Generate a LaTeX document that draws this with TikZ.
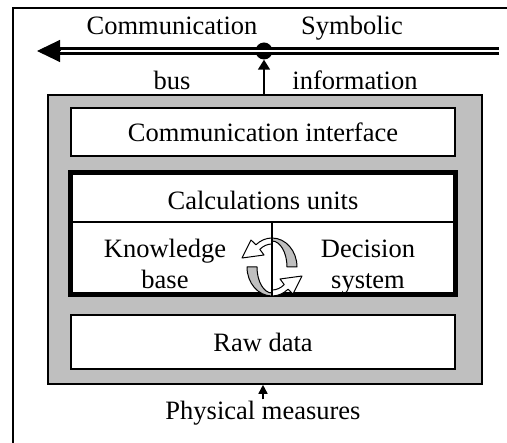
\documentclass[tikz,border=0pt]{standalone}
\usepackage{fontspec}
\setmainfont{Liberation Serif}
\usetikzlibrary{arrows.meta, positioning, calc}

\begin{document}
\begin{tikzpicture}[
    x=1pt, y=-1pt,
    lbl/.style={font=\fontsize{26.5}{30.5}\selectfont, inner sep=0pt, align=center},
    shell/.style={rectangle, draw, line width=1.6pt, fill=gray!50, minimum width=434pt, minimum height=289pt, inner sep=0pt},
    layer/.style={rectangle, draw, line width=1.5pt, fill=white, minimum width=384pt, inner sep=0pt, lbl},
    core/.style={rectangle, draw, line width=5pt, fill=white, minimum width=385pt, minimum height=122pt, inner sep=0pt},
    busline/.style={double, double distance=2.7pt, line width=2.3pt},
    arrow/.style={-{Triangle[length=10pt, width=12pt]}, line width=1.6pt},
    spin/.style={draw, line width=1pt, line join=round},
]
    \useasboundingbox (0,0) rectangle (507,443);

    % Frame
    \draw[line width=2pt] (13,443) -- (13,8) -- (507,8);

    % Communication bus
    \coordinate (busR) at (499,51);
    \coordinate (busT) at (60,51);
    \coordinate (busL) at (37,51);
    \node[circle, fill, inner sep=0pt, minimum size=17pt] (dot) at (264,51) {};
    \draw[busline] (busR) -- (busT);
    \draw[-{Triangle[length=23pt, width=22pt]}, line width=1pt] (busT) -- (busL);

    \node[lbl, anchor=base] (comm) at (172,35) {Communication};
    \node[lbl, anchor=base] (symb) at (352,35) {Symbolic};
    \node[lbl, anchor=base] (bus) at (172,90) {bus};
    \node[lbl, anchor=base] (info) at (355,90) {information};

    % Agent
    \node[shell] (agent) at (265,239.5) {};
    \node[layer, minimum height=48pt] (iface) at (263,132) {Communication interface};
    \node[core] (calc) at (263,233.5) {};
    \node[layer, minimum height=54pt] (raw) at (263,342) {Raw data};

    \node[lbl, anchor=base] (units) at (263,210) {Calculations units};
    \node[lbl] (know) at (165,264) {Knowledge\\base};
    \node[lbl] (dec) at (368,267) {Decision\\system};

    % Rotating arrows
    \begin{scope}[shift={(272,267)}, yscale=-1]
        \foreach \r in {0,180} {
            \begin{scope}[rotate=\r]
                \filldraw[spin, fill=white] (90:25 and 29) arc[start angle=90, end angle=130, x radius=25, y radius=29]
                    -- (-21,27) -- (-30,9) -- (-8,12)
                    -- (130:19 and 23) arc[start angle=130, end angle=90, x radius=19, y radius=23] -- cycle;
                \filldraw[spin, fill=gray!50] (0:25 and 29) arc[start angle=0, end angle=90, x radius=25, y radius=29]
                    -- (90:15 and 26) arc[start angle=90, end angle=0, x radius=15, y radius=26] -- cycle;
            \end{scope}
        }
    \end{scope}

    % Dividers
    \coordinate (split) at (272,222);
    \draw[line width=1.5pt] (split -| calc.west) -- (split -| calc.east);
    \draw[line width=1.5pt] (split) -- (split |- calc.south);

    % Links
    \draw[arrow] (agent.north -| dot) -- (dot);
    \node[lbl, anchor=base] (meas) at (263,420) {Physical measures};
    \draw[-{Triangle[length=9pt, width=9pt]}, line width=1.6pt] ([yshift=2pt]meas.north) -- (meas.north |- agent.south);
\end{tikzpicture}
\end{document}
